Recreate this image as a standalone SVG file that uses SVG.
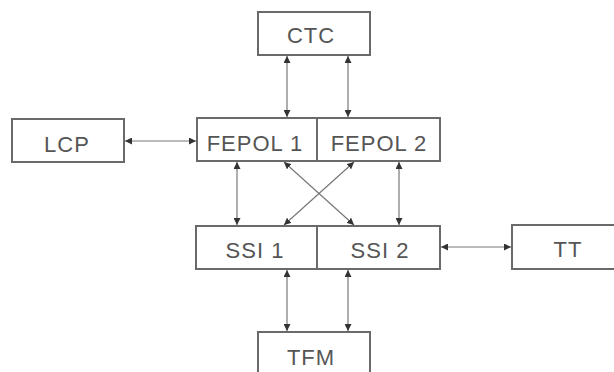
<svg xmlns="http://www.w3.org/2000/svg" width="614" height="372" viewBox="0 0 614 372">
<style>
.box{fill:#fff;stroke:#6a6a6a;stroke-width:2}
.lbl{font-family:"Liberation Sans",Arial,sans-serif;font-size:22px;fill:#555;text-anchor:middle;letter-spacing:1px}
.con{stroke:#777;stroke-width:1.2;fill:none;marker-start:url(#ah);marker-end:url(#ah)}
</style>
<defs>
<marker id="ah" viewBox="0 0 10 10" refX="10" refY="5" markerWidth="7" markerHeight="7" markerUnits="userSpaceOnUse" orient="auto-start-reverse">
<path d="M0,0 L10,5 L0,10 z" fill="#333"/>
</marker>
</defs>
<rect width="614" height="372" fill="#fff"/>
<g id="connectors">
<line class="con" x1="287" y1="56" x2="287" y2="117"/>
<line class="con" x1="348" y1="56" x2="348" y2="117"/>
<line class="con" x1="125" y1="141" x2="196" y2="141"/>
<line class="con" x1="237" y1="162" x2="237" y2="225"/>
<line class="con" x1="399" y1="162" x2="399" y2="225"/>
<line class="con" x1="284" y1="162" x2="354" y2="225"/>
<line class="con" x1="354" y1="162" x2="284" y2="225"/>
<line class="con" x1="441" y1="247" x2="511" y2="247"/>
<line class="con" x1="287" y1="270" x2="287" y2="331"/>
<line class="con" x1="348" y1="270" x2="348" y2="331"/>
</g>
<g id="ctc"><rect class="box" x="258" y="12" width="112" height="43"/><text class="lbl" x="311" y="43">CTC</text></g>
<g id="lcp"><rect class="box" x="12" y="119" width="112" height="43"/><text class="lbl" x="67" y="152">LCP</text></g>
<g id="fepol1"><rect class="box" x="197" y="118" width="120" height="43"/><text class="lbl" x="255" y="151">FEPOL 1</text></g>
<g id="fepol2"><rect class="box" x="317" y="118" width="123" height="43"/><text class="lbl" x="379" y="151">FEPOL 2</text></g>
<g id="ssi1"><rect class="box" x="196" y="226" width="121" height="43"/><text class="lbl" x="255" y="258">SSI 1</text></g>
<g id="ssi2"><rect class="box" x="317" y="226" width="123" height="43"/><text class="lbl" x="380" y="258">SSI 2</text></g>
<g id="tt"><rect class="box" x="512" y="225" width="112" height="44"/><text class="lbl" x="568" y="257">TT</text></g>
<g id="tfm"><rect class="box" x="258" y="332" width="112" height="45"/><text class="lbl" x="311" y="365">TFM</text></g>
</svg>
